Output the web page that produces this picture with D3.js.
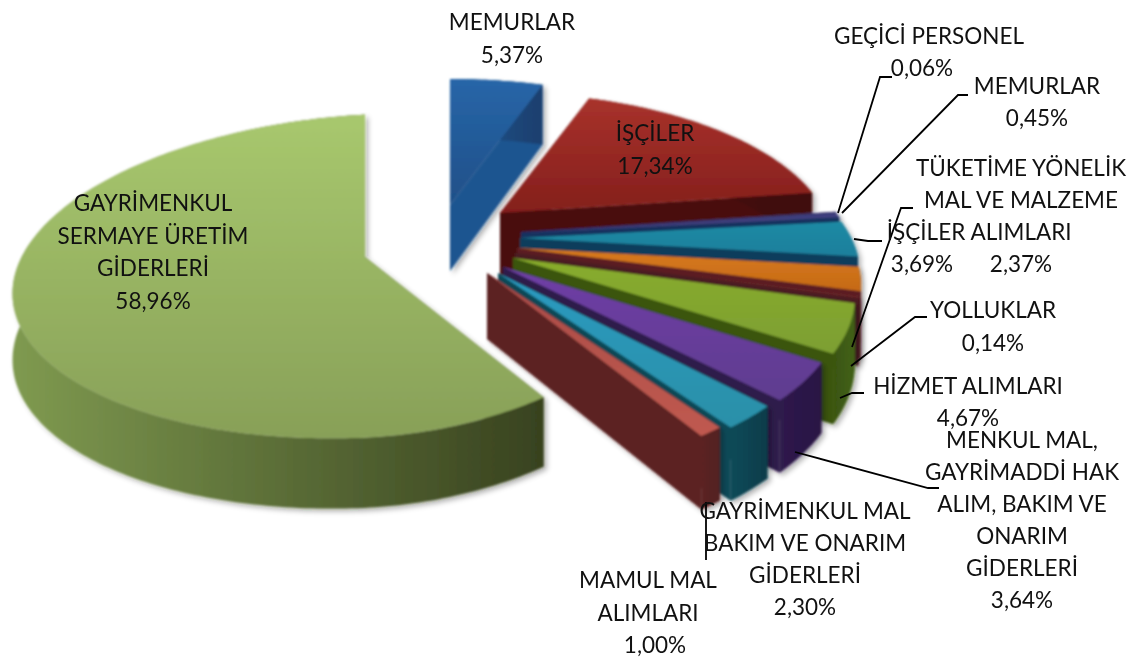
<!DOCTYPE html>
<html><head><meta charset="utf-8">
<style>html,body{margin:0;background:#fff}svg{display:block}text{font-family:Lato,"Open Sans",sans-serif;font-size:22.5px;fill:#111;text-anchor:middle}</style>
<script src="https://cdn.jsdelivr.net/npm/d3@7"></script>
</head><body><svg id="c" width="1136" height="658"></svg>
<script>
const categories = [
  ["MEMURLAR"],["İŞÇİLER"],["GEÇİCİ PERSONEL"],["MEMURLAR"],["İŞÇİLER"],
  ["TÜKETİME YÖNELİK","MAL VE MALZEME","ALIMLARI"],["YOLLUKLAR"],["HİZMET ALIMLARI"],
  ["MENKUL MAL,","GAYRİMADDİ HAK","ALIM, BAKIM VE","ONARIM","GİDERLERİ"],
  ["GAYRİMENKUL MAL","BAKIM VE ONARIM","GİDERLERİ"],["MAMUL MAL","ALIMLARI"],
  ["GAYRİMENKUL","SERMAYE ÜRETİM","GİDERLERİ"]
];
const values = [5.37,17.34,0.06,0.45,3.69,2.37,0.14,4.67,3.64,2.30,1.00,58.96];

// layout (separate from data): slice tip, radius, colours, label anchor
const D = 1500, K = 0.442, THICK = 66;
const layout = [
 {tip:[450,205],r:352,xs:0.97,top:["#2766a8","#1f4f88"],wall:["#1f5590","#1b3f6e"],lab:[512,22,33]},
 {tip:[500,213],r:332,xs:0.98,top:["#a8322b","#841f1c"],wall:["#4a0b0b","#3f0a0a"],lab:[655,133,33]},
 {tip:[521,232],r:328,top:["#6a5a90","#6a5a90"],wall:["#2a2c66","#2a2c66"],lab:[929,36,32,[922]]},
 {tip:[521,233],r:328,top:["#3f3f80","#4a3f7c"],wall:["#14305f","#14305f"],lab:[1037,86,32]},
 {tip:[520,238],r:338,xs:0.98,top:["#1c8aa4","#1e7f9c"],wall:["#0c3d5c","#0c3d5c"],lab:[926,232,32,[922]]},
 {tip:[517,248],r:345,xs:0.97,top:["#d87a1c","#c56a18"],wall:["#5c1a22","#5c1a22"],lab:[1021,168,32]},
 {tip:[515,253],r:345,xs:0.97,top:["#70262a","#70262a"],wall:["#4c1c20","#4c1c20"],lab:[993,310,33]},
 {tip:[513,258],r:350,xs:0.95,top:["#88ac2c","#7d9f32"],wall:["#3a5510","#42611a"],lab:[968,386,32]},
 {tip:[503,267],r:350,xs:0.945,top:["#6f3fa6","#5f3d8f"],wall:["#2e1a4c","#2a1744"],lab:[1022,440,32]},
 {tip:[498,273],r:350,xs:0.92,top:["#2a9ac0","#2a90a8"],wall:["#0d4a58","#0a3c4a"],lab:[805,511,32]},
 {tip:[487,273],r:350,xs:0.92,top:["#a94b47","#c05a50"],wall:["#5c2424","#521f20"],lab:[648,580,32.5,[655]]},
 {tip:[365,257],r:350,xs:0.86,d:2960,k:0.455,shear:-0.05,top:["#a8c86e","#88a058"],wall:["#7f9a50","#38421f"],lab:[153,203,32.5]}
];
// leader polylines: [from slice edge, elbow, label end]
const leaders = [
 [[838,213],[880,77],[892,77]],
 [[842,213],[958,95],[968,95]],
 [[852,347],[901,208],[913,208]],
 [[854,239],[868,241],[882,241]],
 [[851,366],[915,317],[927,317]],
 [[840,398],[852,393],[864,393]],
 [[795,452],[928,488],[939,488]],
 [[706,502],[706,560]]
];

const svg = d3.select("#c"), defs = svg.append("defs");
const f = defs.append("filter").attr("id","soft").attr("x","-10%").attr("y","-10%").attr("width","125%").attr("height","125%");
f.append("feGaussianBlur").attr("stdDeviation",0.8);
const s = defs.append("filter").attr("id","shadow").attr("x","-10%").attr("y","-10%").attr("width","125%").attr("height","125%");
s.append("feDropShadow").attr("dx",3).attr("dy",3).attr("stdDeviation",2.5).attr("flood-color","#000").attr("flood-opacity",0.3);

const pie = d3.pie().sort(null).startAngle(0).endAngle(2*Math.PI).value(d=>d);
const arcs = pie(values);
const pct = d3.format(".2f");
const line = d3.line();
const closed = pts => line(pts)+"Z";

function grad(id,c,horizontal){
  const g = defs.append("linearGradient").attr("id",id).attr("x1",0).attr("y1",0).attr("x2",horizontal?1:0).attr("y2",horizontal?0:1);
  g.append("stop").attr("offset",0).attr("stop-color",c[0]);
  g.append("stop").attr("offset",1).attr("stop-color",c[1]);
  return `url(#${id})`;
}
function projector(l){
  const d=l.d||D,k=l.k||K,sh=l.shear||0,xs=l.xs||1;
  return (a,r)=>{
    const X=r*Math.sin(a),Y=r*Math.cos(a),P=d/(d+Y);
    return {x:l.tip[0]+X*P*(X>0?xs:1), y:l.tip[1]-Y*P*k+sh*X, t:THICK*Math.sqrt(P)};
  };
}
const order = [11,0,1,2,3,4,5,6,7,8,9,10];
const chart = svg.append("g").attr("filter","url(#soft)");
order.forEach(i=>{
  const a=arcs[i],l=layout[i],p=projector(l);
  const n=Math.max(2,Math.ceil((a.endAngle-a.startAngle)*60));
  const angs=d3.range(n+1).map(j=>a.startAngle+(a.endAngle-a.startAngle)*j/n);
  const rim=angs.map(t=>p(t,l.r));
  const tip=p(0,0);
  const g=chart.append("g").attr("filter","url(#shadow)");
  const wf=grad("w"+i,l.wall,true), tf=grad("t"+i,l.top,false);
  const rimWall=[...rim.map(q=>[q.x,q.y]),...rim.slice().reverse().map(q=>[q.x,q.y+q.t])];
  const edge=q=>[[tip.x,tip.y],[q.x,q.y],[q.x,q.y+q.t],[tip.x,tip.y+tip.t]];
  g.append("path").attr("d",closed(edge(rim[0]))).attr("fill",l.wall[1]);
  g.append("path").attr("d",closed(edge(rim[n]))).attr("fill",l.wall[0]);
  g.append("path").attr("d",closed(rimWall)).attr("fill",wf);
  g.append("path").attr("d",closed([[tip.x,tip.y],...rim.map(q=>[q.x,q.y])])).attr("fill",tf);
});

svg.append("g").selectAll("path").data(leaders).join("path")
  .attr("d",d=>line(d)).attr("fill","none").attr("stroke","#000").attr("stroke-width",1.8);

const labels = svg.append("g");
categories.forEach((lines,i)=>{
  const [x,y,dy,pctX]=layout[i].lab;
  const all=[...lines, pct(values[i]).replace(".",",")+"%"];
  all.forEach((t,j)=>{
    const isPct=j===all.length-1;
    labels.append("text").attr("x",isPct&&pctX?pctX[0]:x).attr("y",y+dy*j+8).text(t);
  });
});
</script></body></html>
